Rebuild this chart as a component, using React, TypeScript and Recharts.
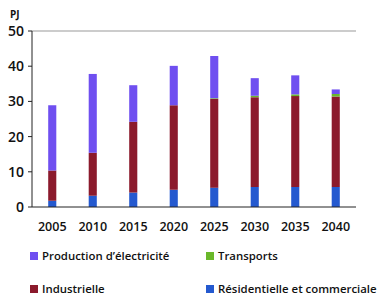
import { BarChart, Bar, XAxis, YAxis, ReferenceLine } from "recharts";

const years = ["2005", "2010", "2015", "2020", "2025", "2030", "2035", "2040"];
const residentielle = [1.8, 3.2, 4.1, 4.9, 5.5, 5.7, 5.7, 5.7];
const industrielle = [8.6, 12.2, 20.1, 24.0, 25.2, 25.5, 25.8, 25.7];
const transports = [0, 0, 0, 0, 0.2, 0.4, 0.5, 0.7];
const electricite = [18.5, 22.4, 10.4, 11.2, 12.0, 5.0, 5.4, 1.3];
const yTicks = [0, 10, 20, 30, 40, 50];
const boundaryTicks = [0, 1, 2, 3, 4, 5, 6, 7, 8];

const data = years.map((year, i) => ({
  year,
  res: residentielle[i],
  ind: industrielle[i],
  trans: transports[i],
  elec: electricite[i],
}));

const series = [
  { key: "res", name: "Résidentielle et commerciale", color: "#2459cf" },
  { key: "ind", name: "Industrielle", color: "#8b1a2c" },
  { key: "trans", name: "Transports", color: "#6ab82a" },
  { key: "elec", name: "Production d’électricité", color: "#6f4ff0" },
];

const legendOrder = ["elec", "trans", "ind", "res"];

const font = "'Open Sans', sans-serif";

const ChartLegend = () => (
  <div
    style={{
      position: "absolute",
      left: 30,
      top: 247,
      display: "grid",
      gridTemplateColumns: "176px 170px",
      rowGap: 16,
      fontFamily: font,
      fontSize: 11.4,
      fontWeight: 600,
      color: "#111",
    }}
  >
    {legendOrder.map((k) => {
      const s = series.find((x) => x.key === k)!;
      return (
        <div key={k} style={{ display: "flex", alignItems: "center", height: 17, whiteSpace: "nowrap" }}>
          <span
            style={{ width: 8, height: 8, flexShrink: 0, background: s.color, marginRight: 4, display: "inline-block" }}
          />
          {s.name}
        </div>
      );
    })}
  </div>
);

const App = () => {
  return (
    <div style={{ position: "absolute", left: 0, top: 0, width: 377, height: 303 }}>
      <div
        style={{
          position: "absolute",
          left: 10,
          top: 7,
          fontFamily: font,
          fontSize: 10,
          fontWeight: 700,
          color: "#111",
        }}
      >
        PJ
      </div>
      <BarChart
        width={377}
        height={303}
        data={data}
        margin={{ top: 31, right: 21, bottom: 66, left: 0 }}
        barCategoryGap="60%"
      >
        <XAxis
          xAxisId="grid"
          type="number"
          domain={[0, 8]}
          ticks={boundaryTicks}
          height={0}
          tick={false}
          tickSize={5}
          tickLine={{ stroke: "#222" }}
          axisLine={false}
        />
        <XAxis
          xAxisId="cat"
          dataKey="year"
          height={30}
          tickLine={false}
          axisLine={{ stroke: "#222" }}
          tickMargin={9}
          tick={{ fill: "#111", fontFamily: font, fontSize: 12.5, fontWeight: 600 }}
        />
        <YAxis
          yAxisId="left"
          width={32}
          domain={[0, 50]}
          ticks={yTicks}
          tickSize={4}
          tickMargin={4}
          axisLine={{ stroke: "#222" }}
          tickLine={{ stroke: "#222" }}
          tick={{ fill: "#111", fontFamily: font, fontSize: 14, fontWeight: 600 }}
        />
        <ReferenceLine xAxisId="grid" yAxisId="left" x={8} stroke="#999" />
        <ReferenceLine xAxisId="grid" yAxisId="left" y={50} stroke="#999" />
        {series.map((s) => (
          <Bar
            key={s.key}
            xAxisId="cat"
            yAxisId="left"
            dataKey={s.key}
            name={s.name}
            stackId="a"
            fill={s.color}
            isAnimationActive={false}
          />
        ))}
      </BarChart>
      <ChartLegend />
    </div>
  );
};

export default App;
